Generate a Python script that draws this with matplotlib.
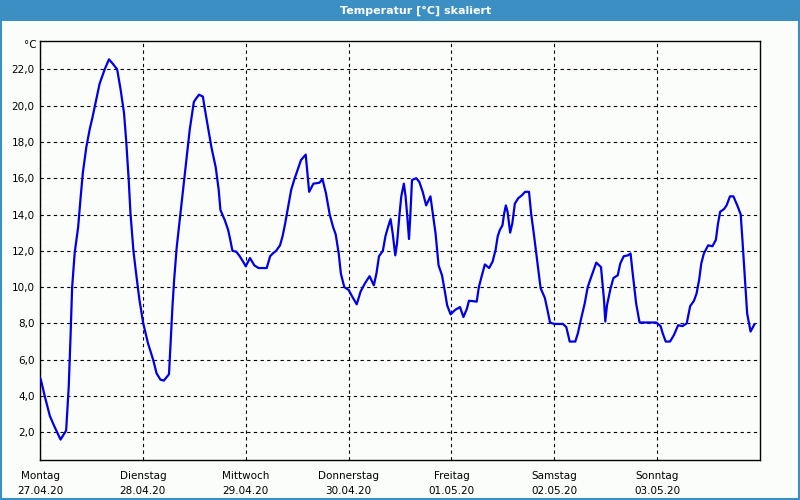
import matplotlib
matplotlib.use('Agg')
import matplotlib.pyplot as plt
from matplotlib.patches import Rectangle

# ---- data (hours since Monday 00:00, temperature in °C) ----
hours = [0.0, 0.2, 1.1, 2.3, 3.4, 4.8, 6.1, 6.7, 7.1, 7.5, 8.1, 8.9, 9.5, 10.0, 10.8, 11.6,
         12.2, 13.1, 13.9, 15.1, 16.1, 17.0, 18.0, 18.8, 19.6, 20.1, 20.7, 21.1, 21.8, 22.4,
         23.2, 24.1, 25.2, 26.4, 27.2, 28.1, 28.9, 30.1, 30.5, 30.9, 31.3, 31.9, 32.6, 33.2,
         33.8, 34.4, 34.95, 35.9, 36.3, 37.1, 38.0, 38.4, 39.2, 40.0, 41.0, 41.7, 42.1, 43.1,
         43.9, 44.4, 44.9, 45.8, 46.6, 47.4, 48.0, 49.0, 50.0, 51.0, 52.9, 53.7, 54.3, 55.1,
         56.0, 56.6, 57.2, 57.8, 58.6, 59.3, 60.1, 60.9, 62.0, 62.4, 62.8, 63.8, 65.2, 65.9,
         66.7, 67.6, 68.4, 69.0, 69.7, 70.2, 71.0, 72.0, 72.8, 73.9, 74.8, 75.8, 76.9, 77.9,
         78.5, 79.1, 80.0, 80.6, 81.2, 81.8, 82.3, 82.9, 83.3, 83.9, 84.3, 84.9, 85.3, 85.7,
         86.1, 86.4, 86.8, 87.8, 88.5, 89.3, 90.1, 91.1, 91.6, 92.3, 93.0, 93.8, 94.4, 95.0,
         95.8, 96.9, 98.0, 98.8, 99.6, 100.1, 101.9, 102.4, 103.0, 103.8, 104.8, 105.6, 106.3,
         106.8, 107.3, 107.9, 108.3, 108.7, 109.1, 109.7, 110.2, 110.8, 111.6, 112.4, 113.2,
         114.1, 114.6, 115.3, 116.1, 116.8, 117.8, 118.4, 119.0, 120.0, 122.0, 122.8, 123.6,
         124.9, 125.5, 126.3, 127.1, 127.8, 128.6, 129.8, 130.9, 131.6, 131.9, 132.3, 133.1,
         133.8, 134.8, 135.4, 136.2, 137.2, 137.8, 138.3, 139.1, 139.9, 143.8, 144.8, 145.3,
         146.0, 147.0, 147.9, 148.9, 149.9, 150.9, 151.7, 152.6, 153.2, 153.8, 154.3, 154.9,
         155.9, 156.9, 157.7, 158.2, 158.7, 159.6, 160.2, 161.0, 161.8, 162.7, 163.5, 163.9,
         164.4, 165.0, 165.8, 166.7]
temps = [5.0, 4.9, 4.0, 2.9, 2.3, 1.6, 2.1, 4.5, 7.1, 10.0, 11.9, 13.3, 15.0, 16.3, 17.7, 18.7,
         19.3, 20.3, 21.2, 22.0, 22.55, 22.3, 22.0, 20.9, 19.6, 18.1, 15.9, 14.1, 12.0, 10.8,
         9.3, 8.0, 6.9, 6.0, 5.25, 4.9, 4.85, 5.2, 7.1, 8.9, 10.4, 12.2, 13.7, 15.0,
         16.3, 17.55, 18.7, 20.2, 20.35, 20.6, 20.5, 19.9, 18.8, 17.7, 16.6, 15.35, 14.25, 13.7,
         13.15, 12.6, 12.0, 11.95, 11.7, 11.4, 11.15, 11.6, 11.2, 11.05, 11.05, 11.7, 11.85, 12.0,
         12.3, 12.8, 13.5, 14.3, 15.35, 15.9, 16.45, 17.0, 17.3, 16.3, 15.25, 15.7, 15.75, 15.95,
         15.2, 14.0, 13.3, 12.9, 11.85, 10.75, 10.0, 9.85, 9.5, 9.05, 9.75, 10.2, 10.6, 10.1,
         10.75, 11.7, 12.0, 12.8, 13.3, 13.75, 12.95, 11.75, 12.4, 14.05, 15.0, 15.7, 15.0, 13.9,
         12.65, 13.9, 15.9, 16.0, 15.8, 15.25, 14.5, 15.0, 14.15, 12.95, 11.2, 10.65, 9.85, 9.0,
         8.5, 8.75, 8.9, 8.35, 8.8, 9.25, 9.2, 10.0, 10.55, 11.25, 11.05, 11.4, 12.05,
         12.8, 13.15, 13.4, 14.05, 14.5, 14.15, 13.0, 13.5, 14.6, 14.9, 15.05, 15.25,
         15.25, 14.05, 12.8, 11.3, 9.95, 9.4, 8.75, 8.05, 7.97, 7.97, 7.8, 7.0,
         7.0, 7.45, 8.3, 9.1, 10.0, 10.55, 11.35, 11.1, 9.3, 8.1, 9.0, 9.9,
         10.5, 10.65, 11.3, 11.7, 11.75, 11.85, 10.75, 9.1, 8.05, 8.05, 7.85, 7.45,
         7.0, 7.0, 7.35, 7.9, 7.85, 8.0, 8.95, 9.25, 9.65, 10.4, 11.3, 11.85,
         12.3, 12.25, 12.6, 13.5, 14.15, 14.3, 14.5, 15.0, 15.0, 14.5, 14.0, 12.6,
         10.75, 8.55, 7.55, 7.95]

day_names = ['Montag', 'Dienstag', 'Mittwoch', 'Donnerstag', 'Freitag', 'Samstag', 'Sonntag']
day_dates = ['27.04.20', '28.04.20', '29.04.20', '30.04.20', '01.05.20', '02.05.20', '03.05.20']
y_ticks = [2, 4, 6, 8, 10, 12, 14, 16, 18, 20, 22]
y_tick_labels = ['2,0', '4,0', '6,0', '8,0', '10,0', '12,0', '14,0', '16,0', '18,0', '20,0', '22,0']
title = 'Temperatur [°C] skaliert'
unit = '°C'

W, H = 800, 500
bar_col = '#3c8fc3'
fig = plt.figure(figsize=(8, 5), dpi=100, facecolor='#fbfdfb')

# title bar and frame
fig.patches.append(Rectangle((0, 1 - 21 / H), 1, 21 / H, transform=fig.transFigure,
                             facecolor=bar_col, edgecolor='none', zorder=0))
fig.patches.append(Rectangle((1 / W, 1 / H), 1 - 2 / W, 1 - 2 / H, transform=fig.transFigure,
                             fill=False, edgecolor=bar_col, lw=1.5, zorder=0))
fig.text(0.52, 1 - 10.5 / H, title, color='white', fontweight='bold',
         ha='center', va='center', fontsize=8, family='DejaVu Sans')

ax = fig.add_axes([40 / W, 40 / H, 720 / W, 419.3 / H])
ax.set_facecolor('#fbfdfb')
ax.plot(hours, temps, color='#0000e8', lw=1.6, zorder=3)

ax.set_xlim(0, 168)
ax.set_ylim(0.474, 23.576)

ax.set_yticks(y_ticks)
ax.set_yticklabels(y_tick_labels)
xt = [24 * i for i in range(len(day_names))]
ax.set_xticks(xt)
ax.set_xticklabels([f'{n}\n{d}' for n, d in zip(day_names, day_dates)], linespacing=1.55)

ax.tick_params(axis='y', length=0, pad=4, labelsize=7.5, colors='black')
ax.tick_params(axis='x', length=0, pad=8, labelsize=7.5, colors='black')

ax.grid(True, color='black', linestyle=(0, (3, 3)), linewidth=0.8)
for s in ax.spines.values():
    s.set_color('black')
    s.set_linewidth(1.0)

fig.text(37 / W, 1 - 45 / H, unit, ha='right', va='center', fontsize=7.5)

fig.savefig('out.png', dpi=100, facecolor=fig.get_facecolor())
